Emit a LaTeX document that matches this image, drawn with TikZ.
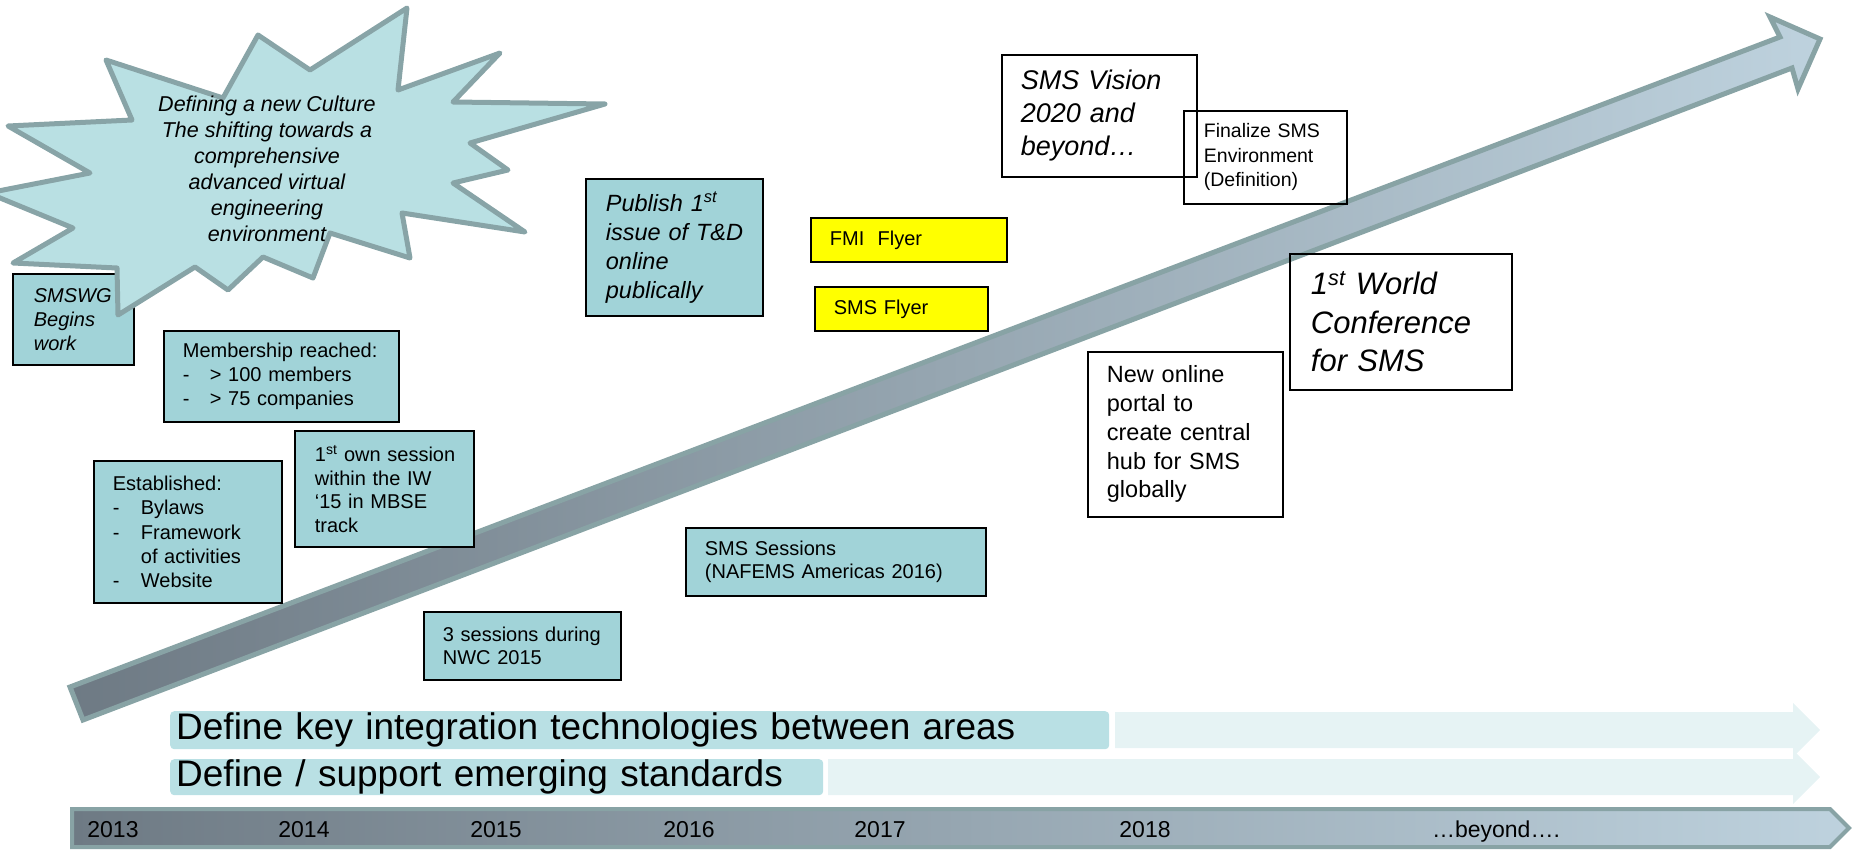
\documentclass[tikz,border=0pt]{standalone}
\usepackage{fontspec}
\setmainfont{Liberation Sans}
\definecolor{boxteal}{HTML}{A1D3D8}
\definecolor{flyer}{HTML}{FFFF00}
\definecolor{burstfill}{HTML}{B9E0E3}
\definecolor{burstdraw}{HTML}{88A4A7}
\definecolor{bandteal}{HTML}{B9E0E4}
\definecolor{bandlight}{HTML}{E6F3F4}
\definecolor{arrowdark}{HTML}{6E7A84}
\definecolor{arrowlight}{HTML}{BED2DE}
\definecolor{arrowborder}{HTML}{88A3A5}
\begin{document}
\begin{tikzpicture}[x=1pt,y=-1pt,
  tbox/.style={draw=black, line width=1.8pt, fill=boxteal, anchor=north west,
    inner xsep=19pt, inner ysep=0pt, align=left, font=\fontsize{20}{23.8}\selectfont},
  wbox/.style={tbox, fill=none},
  ybox/.style={tbox, fill=flyer},
  bandbox/.style={fill=bandteal, rounded corners=4pt, anchor=north west, inner xsep=6pt,
    inner ysep=0pt, align=left, font=\fontsize{37}{44}\selectfont},
  year/.style={anchor=base, font=\fontsize{23}{28}\selectfont},
  bigarrow/.style={draw=arrowborder, line width=5pt, line join=miter, left color=arrowdark, right color=arrowlight},
  burst/.style={draw=burstdraw, fill=burstfill, line width=5pt, line join=round}
]
\useasboundingbox (0,0) rectangle (1861,851);

% bands
\fill[bandlight] (1115,712) -- (1793,712) -- (1793,703) -- (1820,730) -- (1793,757) -- (1793,748) -- (1115,748) -- cycle;
\fill[bandlight] (828,759) -- (1793,759) -- (1793,750) -- (1820,777) -- (1793,804) -- (1793,795) -- (828,795) -- cycle;
\node[bandbox, text width=927pt, minimum height=38pt] (band1) at (170,711) {\mbox{Define key integration technologies between areas}};
\node[bandbox, text width=641pt, minimum height=36pt] (band2) at (170,759) {\mbox{Define / support emerging standards}};

% timeline bar
\draw[bigarrow, line width=4pt] (72,809) -- (1830,809) -- (1849,828) -- (1830,847) -- (72,847) -- cycle;
\node[year] (y2013) at (113,837) {2013};
\node[year] (y2014) at (304,837) {2014};
\node[year] (y2015) at (496,837) {2015};
\node[year] (y2016) at (689,837) {2016};
\node[year] (y2017) at (880,837) {2017};
\node[year] (y2018) at (1145,837) {2018};
\node[year] (ybeyond) at (1496,837) {…beyond….};

% main diagonal arrow
\draw[bigarrow] (70,687) -- (1780,37) -- (1770,17) -- (1820,39) -- (1798,89) -- (1792,68) -- (83,720) -- cycle;

% boxes
\node[tbox, inner xsep=21pt, text width=79pt, minimum height=91pt, font=\fontsize{20}{24}\selectfont\itshape] (smswg) at (12,273) {\mbox{SMSWG}\\\mbox{Begins}\\\mbox{work}};
\node[tbox, text width=197pt, minimum height=91pt] (member) at (163,330) {\mbox{Membership reached:}\\\mbox{\makebox[27pt][l]{-}> 100 members}\\\mbox{\makebox[27pt][l]{-}> 75 companies}};
\node[tbox, text width=150pt, minimum height=142pt, font=\fontsize{20}{24.2}\selectfont] (estab) at (93,460) {\mbox{Established:}\\\mbox{\makebox[28pt][l]{-}Bylaws}\\\mbox{\makebox[28pt][l]{-}Framework}\\\mbox{\hspace*{28pt}of activities}\\\mbox{\makebox[28pt][l]{-}Website}};
\node[tbox, inner xsep=20pt, text width=139pt, minimum height=116pt, font=\fontsize{20}{23.4}\selectfont] (ownsess) at (294,430) {\mbox{1\textsuperscript{st} own session}\\\mbox{within the IW}\\\mbox{‘15 in MBSE}\\\mbox{track}};
\node[tbox, text width=159pt, minimum height=68pt] (nwc) at (423,611) {\mbox{3 sessions during}\\\mbox{NWC 2015}};
\node[tbox, inner xsep=20pt, text width=137pt, minimum height=137pt, font=\fontsize{23.5}{29}\selectfont\itshape] (publish) at (585,178) {\mbox{Publish 1\textsuperscript{st}}\\\mbox{issue of T\&D}\\\mbox{online}\\\mbox{publically}};
\node[ybox, text width=158pt, minimum height=44pt] (fmi) at (810,217) {\mbox{FMI\ \ Flyer}};
\node[ybox, text width=135pt, minimum height=44pt] (smsflyer) at (814,286) {\mbox{SMS Flyer}};
\node[tbox, text width=262pt, minimum height=68pt] (sessions) at (685,527) {\mbox{SMS Sessions}\\\mbox{(NAFEMS Americas 2016)}};
\node[wbox, inner xsep=20pt, text width=123pt, minimum height=93pt, font=\fontsize{19.5}{24.5}\selectfont] (finalize) at (1183,110) {\mbox{Finalize SMS}\\\mbox{Environment}\\\mbox{(Definition)}};
\node[wbox, text width=157pt, minimum height=122pt, font=\fontsize{27}{33}\selectfont\itshape] (vision) at (1001,54) {\mbox{SMS Vision}\\\mbox{2020 and}\\\mbox{beyond…}};
\node[wbox, inner xsep=21pt, text width=180pt, minimum height=136pt, font=\fontsize{31}{38.5}\selectfont\itshape] (world) at (1289,253) {\mbox{1\textsuperscript{st} World}\\\mbox{Conference}\\\mbox{for SMS}};
\node[wbox, text width=157pt, minimum height=165pt, font=\fontsize{23.5}{28.75}\selectfont] (portal) at (1087,351) {\mbox{New online}\\\mbox{portal to}\\\mbox{create central}\\\mbox{hub for SMS}\\\mbox{globally}};

% starburst
\draw[burst] (407,8) -- (398,90) -- (500,53) -- (453,102) -- (605,104) -- (470,143) -- (508,170) -- (453,183) -- (525,232) -- (402,213) -- (410,258) -- (330,233) -- (313,278) -- (263,257) -- (228,290) -- (195,267) -- (118,315) -- (117,268) -- (13,263) -- (73,228) -- (-12,193) -- (90,173) -- (8,126) -- (132,120) -- (106,60) -- (223,98) -- (258,35) -- (310,70) -- cycle;
\node[font=\fontsize{21.5}{26}\selectfont\itshape, align=center] (culture) at (267,169) {Defining a new Culture\\The shifting towards a\\comprehensive\\advanced virtual\\engineering\\environment};
\end{tikzpicture}
\end{document}
